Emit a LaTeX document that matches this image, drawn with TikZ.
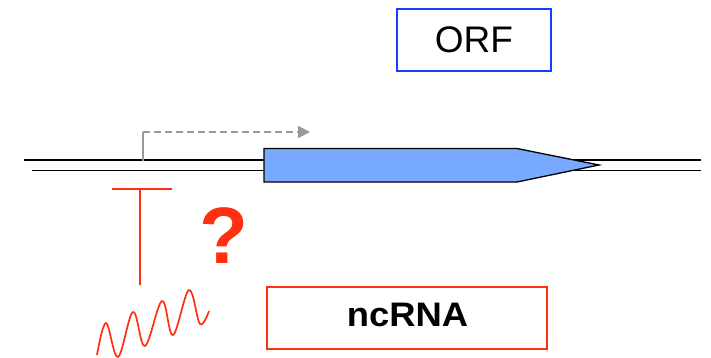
\documentclass[tikz,border=0pt]{standalone}
\usepackage{fontspec}
\setmainfont{Liberation Sans}
\usetikzlibrary{arrows.meta,calc}
\definecolor{geneblue}{HTML}{77AAFF}
\definecolor{boxblue}{HTML}{1A3CFF}
\definecolor{rnared}{HTML}{FF3010}
\definecolor{promgray}{HTML}{999999}
\tikzset{
  strand/.style={line width=1.3pt, black},
  labelbox/.style={draw, line width=1.8pt, minimum height=#1, inner sep=0pt},
  redline/.style={rnared, line width=1.9pt},
}
\begin{document}
\begin{tikzpicture}[x=1pt,y=-1pt]
\useasboundingbox (0,0) rectangle (711,358);
% DNA double strand
\coordinate (t1) at (24,160);  \coordinate (t2) at (701,160);
\coordinate (b1) at (32,170.7); \coordinate (b2) at (701,170.7);
\draw[strand] (t1) -- (t2);
\draw[strand] (b1) -- (b2);
% gene arrow (ORF)
\draw[strand, fill=geneblue, line width=1.3pt]
  (264,148.5) -- (517,148.5) -- (599,165) -- (517,182) -- (264,182) -- cycle;
% transcription start
\coordinate (tss) at (143,161);
\coordinate (tssup) at (143,132);
\coordinate (tssend) at (310,132);
\draw[promgray, line width=1.8pt] (tss) -- (tssup);
\draw[promgray, line width=1.8pt, dash pattern=on 7pt off 4pt, -{Triangle[length=12pt,width=12pt]}] (tssup) -- (tssend);
% repression bar
\coordinate (barL) at (112,189); \coordinate (barR) at (172,189);
\coordinate (barB) at (140,285);
\draw[redline] (barL) -- (barR);
\draw[redline] ($(barL)!0.467!(barR)$) -- (barB);
% ncRNA squiggle
\draw[redline, line width=1.7pt] plot[smooth, tension=0.6] coordinates {
  (97,355) (106,323) (118,357) (133,312) (145,346) (162,301)
  (173,335) (189,290) (200,324) (209,311)};
% question mark
\node[text=rnared, font=\fontsize{80}{80}\selectfont\bfseries, inner sep=0pt] (q) at (223.5,236) {?};
% labels
\node[labelbox=62pt, draw=boxblue, minimum width=154pt, font=\fontsize{37}{37}\selectfont] (orf) at (474,40) {ORF};
\node[labelbox=62pt, draw=rnared, minimum width=280pt] (nc) at (407,318) {};
\node[font=\fontsize{34}{34}\selectfont\bfseries, inner sep=0pt] (nctext) at (407.5,315) {\scalebox{1.07}[1]{ncRNA}};
\end{tikzpicture}
\end{document}
